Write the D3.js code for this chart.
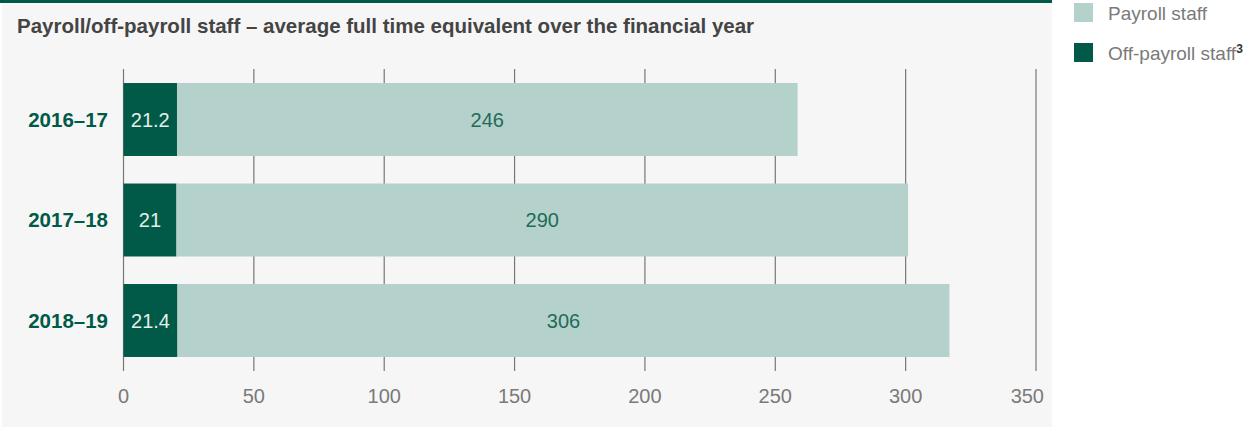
<!DOCTYPE html>
<html>
<head>
<meta charset="utf-8">
<script src="https://cdn.jsdelivr.net/npm/d3@7"></script>
<style>
  html, body { margin: 0; padding: 0; background: #ffffff; }
  svg { display: block; font-family: "Liberation Sans", Arial, sans-serif; }
</style>
</head>
<body>
<div id="chart"></div>
<script>
// Payroll / off-payroll staff, horizontal stacked bars

const years = ["2016–17", "2017–18", "2018–19"];
const offPayroll = [21.2, 21, 21.4];
const payroll = [246, 290, 306];
const xTicks = [0, 50, 100, 150, 200, 250, 300, 350];

const W = 1253, H = 428;
const darkGreen = "#005a47";
const lightGreen = "#b5d1cb";

const svg = d3.select("#chart")
  .append("svg")
  .attr("width", W)
  .attr("height", H);

// background panel + top rule
svg.append("rect")
  .attr("x", 2).attr("y", 0)
  .attr("width", 1050).attr("height", 427)
  .attr("fill", "#f6f6f6");

svg.append("rect")
  .attr("x", 0).attr("y", 0)
  .attr("width", 1052).attr("height", 3)
  .attr("fill", darkGreen);

svg.append("text")
  .attr("x", 17)
  .attr("y", 33)
  .style("font-size", "20.5px")
  .style("font-weight", "bold")
  .style("fill", "#444")
  .text("Payroll/off-payroll staff – average full time equivalent over the financial year");

// Scales: the axis and the bars in the original use slightly different lengths
const xAxisScale = d3.scaleLinear()
  .domain([0, 350])
  .range([123.5, 1036]);

const xBar = d3.scaleLinear()
  .domain([0, 361.7])
  .range([123.5, 1036]);

const yScale = d3.scaleBand()
  .domain(years)
  .range([69.25, 370.75])
  .paddingInner(0.274)
  .paddingOuter(0.137);

// gridlines / ticks
svg.append("g")
  .selectAll("line")
  .data(xTicks)
  .enter()
  .append("line")
  .attr("x1", d => xAxisScale(d))
  .attr("x2", d => xAxisScale(d))
  .attr("y1", 69)
  .attr("y2", 371)
  .attr("stroke", "#777")
  .attr("stroke-width", 1.2);

// last label is pulled inside the panel
svg.append("g")
  .selectAll("text")
  .data(xTicks)
  .enter()
  .append("text")
  .attr("x", (d, i) => i === xTicks.length - 1 ? xAxisScale(d) + 8 : xAxisScale(d))
  .attr("y", 403)
  .attr("text-anchor", (d, i) => i === xTicks.length - 1 ? "end" : "middle")
  .style("font-size", "20px")
  .style("fill", "#7a7a7a")
  .text(d => d);

const rows = years.map((y, i) => ({ year: y, off: offPayroll[i], pay: payroll[i] }));

// off-payroll segments
svg.append("g")
  .selectAll("rect")
  .data(rows)
  .enter()
  .append("rect")
  .attr("x", xBar(0))
  .attr("y", d => yScale(d.year))
  .attr("width", d => xBar(d.off) - xBar(0))
  .attr("height", yScale.bandwidth())
  .attr("fill", darkGreen);

// payroll segments
svg.append("g")
  .selectAll("rect")
  .data(rows)
  .enter()
  .append("rect")
  .attr("x", d => xBar(d.off))
  .attr("y", d => yScale(d.year))
  .attr("width", d => xBar(d.off + d.pay) - xBar(d.off))
  .attr("height", yScale.bandwidth())
  .attr("fill", lightGreen);

// value labels
svg.append("g")
  .selectAll("text")
  .data(rows)
  .enter()
  .append("text")
  .attr("x", d => (xBar(0) + xBar(d.off)) / 2)
  .attr("y", d => yScale(d.year) + yScale.bandwidth() / 2)
  .attr("dy", "0.35em")
  .attr("text-anchor", "middle")
  .style("font-size", "20px")
  .style("fill", "#e6eeea")
  .text(d => d.off);

svg.append("g")
  .selectAll("text")
  .data(rows)
  .enter()
  .append("text")
  .attr("x", d => (xBar(d.off) + xBar(d.off + d.pay)) / 2)
  .attr("y", d => yScale(d.year) + yScale.bandwidth() / 2)
  .attr("dy", "0.35em")
  .attr("text-anchor", "middle")
  .style("font-size", "20px")
  .style("fill", "#1f6b59")
  .text(d => d.pay);

// category labels
svg.append("g")
  .selectAll("text")
  .data(years)
  .enter()
  .append("text")
  .attr("x", 108)
  .attr("y", d => yScale(d) + yScale.bandwidth() / 2)
  .attr("dy", "0.35em")
  .attr("text-anchor", "end")
  .style("font-size", "20.5px")
  .style("font-weight", "bold")
  .style("fill", darkGreen)
  .text(d => d);

// legend
const legendItems = [
  { label: "Payroll staff", color: lightGreen, sup: "" },
  { label: "Off-payroll staff", color: darkGreen, sup: "3" }
];

const legend = svg.append("g")
  .selectAll("g")
  .data(legendItems)
  .enter()
  .append("g")
  .attr("transform", (d, i) => `translate(1074, ${3 + i * 40})`);

legend.append("rect")
  .attr("width", 19)
  .attr("height", 19)
  .attr("fill", d => d.color);

const legendText = legend.append("text")
  .attr("x", 34)
  .attr("y", 10)
  .attr("dy", "0.35em")
  .style("font-size", "19px")
  .style("fill", "#7a7a7a")
  .text(d => d.label);

legendText.append("tspan")
  .attr("dy", "-0.55em")
  .style("font-size", "12px")
  .style("font-weight", "bold")
  .style("fill", "#333")
  .text(d => d.sup);
</script>
</body>
</html>
